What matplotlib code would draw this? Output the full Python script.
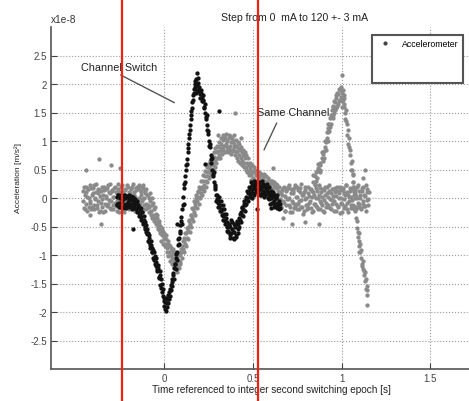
import numpy as np
import matplotlib
matplotlib.use("Agg")
import matplotlib.pyplot as plt
from matplotlib.lines import Line2D

plt.rcParams['font.family'] = ['Liberation Sans', 'DejaVu Sans']
plt.rcParams['axes.unicode_minus'] = False

# acceleration values in units of 1e-8 m/s^2, sampled every 5 ms,
# two interleaved passes per run (second pass half a sample later)
dt = 0.005

# "Channel Switch" run (black), starts at -0.27 s
switch_t0 = -0.27
switch_a = [
    0.02, -0.12, 0.05, -0.08, -0.15, 0.03, -0.05, -0.18, 0.06, -0.1, 0.0, -0.14, 0.04, -0.07, -0.16, 0.02, -0.11, -0.03, -0.17, 0.01, -0.09,
    -0.06, -0.2, -0.1, -0.24, -0.15, -0.3, -0.18, -0.33,
    -0.25, -0.42, -0.38, -0.55, -0.48, -0.64,
    -0.62, -0.78, -0.7, -0.88, -0.82, -0.95,
    -0.92, -1.08, -1.02, -1.2, -1.12, -1.28,
    -1.22, -1.4, -1.35, -1.58, -1.5, -1.72,
    -1.75, -1.9, -1.82, -1.98, -1.85,
    -1.7, -1.78, -1.6, -1.62, -1.48,
    -1.42, -1.35, -1.22, -1.15,
    -1.05, -0.95, -0.82, -0.7,
    -0.58, -0.48, -0.33, -0.2,
    0.02, 0.18, 0.38, 0.5, 0.68,
    0.8, 0.95, 1.12, 1.28, 1.45, 1.58,
    1.72, 1.85, 1.95, 2.0, 2.08, 1.9, 2.02, 1.88, 1.82,
    1.85, 1.78, 1.72, 1.7, 1.58, 1.5, 1.38,
    1.28, 1.12, 1.0, 0.9, 0.75, 0.62, 0.5, 0.38, 0.28, 0.15, 0.05,
    -0.02, -0.08, -0.05, -0.15, -0.12, -0.22, -0.2, -0.32, -0.28, -0.4, -0.35, -0.5,
    -0.42, -0.6, -0.48, -0.65, -0.38, -0.55, -0.7, -0.45, -0.6, -0.5, -0.68, -0.42, -0.55, -0.35,
    -0.38, -0.25, -0.3, -0.18, -0.2, -0.1, -0.12, -0.02, 0.0, 0.08,
    0.12, 0.02, 0.18, 0.1, 0.22, 0.08, 0.2, 0.15, 0.25, 0.12,
    0.22, 0.1, 0.25, 0.15, 0.05, 0.2, 0.12, 0.22, 0.05, 0.18, 0.08, 0.15,
    0.1, -0.02, 0.08, 0.0, 0.05, -0.08, 0.02, -0.05, -0.12, 0.0, -0.1, -0.15, -0.05, -0.18,
]
switch_a2 = [
    -0.1, 0.05, -0.16, 0.0, 0.06, -0.12, 0.04, -0.02, -0.15, 0.05, -0.18, 0.02, -0.12, 0.06, -0.04, -0.14, 0.04, -0.2, 0.0, -0.12, -0.02,
    -0.18, -0.05, -0.25, -0.12, -0.32, -0.2, -0.38, -0.25,
    -0.45, -0.32, -0.5, -0.42, -0.6, -0.55,
    -0.75, -0.65, -0.82, -0.75, -0.95, -0.88,
    -1.05, -0.95, -1.15, -1.05, -1.25, -1.18,
    -1.38, -1.28, -1.52, -1.42, -1.65, -1.6,
    -1.8, -1.95, -1.75, -1.92, -1.78,
    -1.85, -1.65, -1.72, -1.52, -1.55,
    -1.32, -1.42, -1.15, -1.25,
    -0.98, -1.08, -0.72, -0.8,
    -0.62, -0.4, -0.45, -0.12,
    -0.1, 0.25, 0.28, 0.58, 0.6,
    0.88, 1.05, 1.2, 1.38, 1.52, 1.68,
    1.8, 1.92, 2.05, 1.85, 1.98, 2.1, 1.88, 1.95, 1.75,
    1.9, 1.7, 1.8, 1.6, 1.65, 1.42, 1.45,
    1.2, 1.18, 0.92, 0.95, 0.68, 0.7, 0.42, 0.45, 0.2, 0.22, -0.05,
    0.05, -0.15, 0.02, -0.22, -0.05, -0.3, -0.12, -0.38, -0.2, -0.45, -0.28, -0.58,
    -0.58, -0.45, -0.7, -0.5, -0.62, -0.42, -0.6, -0.72, -0.48, -0.65, -0.4, -0.62, -0.45, -0.5,
    -0.28, -0.42, -0.15, -0.32, -0.05, -0.22, 0.02, -0.1, 0.12, -0.05,
    0.2, 0.05, 0.28, 0.0, 0.15, 0.3, 0.05, 0.25, 0.1, 0.28,
    0.12, 0.28, 0.05, 0.2, 0.3, 0.08, 0.25, 0.02, 0.2, 0.1, 0.25, 0.0,
    0.2, 0.05, -0.1, 0.12, -0.08, 0.1, -0.15, 0.05, 0.0, -0.18, 0.05, -0.08, -0.2, -0.1,
]
switch_extra_t = [-0.18, 0.07, 0.185, 0.23, 0.305, 0.52, 0.6]
switch_extra_a = [-0.55, -0.45, 2.2, 0.6, 1.52, -0.2, -0.18]

# "Same Channel" run (grey), starts at -0.46 s
same_t0 = -0.46
same_a = [
    0.12, -0.18, 0.05, 0.2, -0.1, -0.22, 0.15, 0.0, -0.05, 0.18, -0.15, 0.08, -0.2, 0.22, -0.02, 0.1, -0.12, 0.16, -0.25, 0.04,
    -0.08, 0.2, -0.16, 0.06, 0.14, -0.22, 0.0, 0.18, -0.1, 0.1, -0.18, 0.24, -0.05, 0.12, -0.2, 0.02, 0.2, -0.14, 0.08, -0.06,
    0.16, -0.24, 0.1, -0.02, 0.22, -0.12, 0.05, -0.18, 0.14, 0.0, -0.1, 0.2, -0.2, 0.08, 0.15, -0.06, 0.25, -0.15, 0.1, 0.02,
    0.18, -0.08,
    0.15, 0.0, 0.2, 0.05, 0.12, -0.05, 0.18, 0.0, 0.08, -0.1, 0.05, -0.12, 0.0, -0.15, -0.05, -0.22, -0.12, -0.3, -0.2, -0.35, -0.28,
    -0.42, -0.35, -0.5, -0.45, -0.58, -0.5, -0.65, -0.6, -0.72, -0.68,
    -0.8, -0.72, -0.88, -0.8, -0.95, -0.85, -1.0, -0.92, -1.05, -0.95,
    -1.1, -1.0, -1.15, -1.05, -1.2, -1.1, -1.0, -1.15, -0.95, -0.85,
    -0.9, -0.75, -0.8, -0.62, -0.7, -0.5, -0.58, -0.4, -0.45, -0.3,
    -0.35, -0.2, -0.25, -0.1, -0.15, 0.0, -0.05, 0.1, 0.02, 0.15,
    0.08, 0.2, 0.15, 0.3, 0.22, 0.38, 0.3, 0.45, 0.38, 0.52,
    0.45, 0.58, 0.5, 0.65, 0.58, 0.72, 0.65, 0.8, 0.7, 0.82,
    0.75, 0.9, 0.82, 0.95, 0.88, 1.02, 0.92, 1.05, 0.95, 0.9,
    1.0, 0.88, 1.05, 0.92, 0.98, 0.85, 1.0, 0.9, 0.95, 0.82,
    0.92, 0.8, 0.88, 0.75, 0.85, 0.7, 0.8, 0.65, 0.75, 0.62,
    0.7, 0.55, 0.62, 0.48, 0.58, 0.45, 0.52, 0.4, 0.48, 0.35,
    0.45, 0.32, 0.4, 0.28, 0.38, 0.25, 0.35, 0.3, 0.42, 0.22,
    0.35, 0.2, 0.3, 0.15, 0.28, 0.22, 0.12, 0.3, 0.18, 0.25,
    0.15, 0.25, 0.08, 0.2, 0.05, 0.18, 0.0, 0.12, 0.08, -0.02,
    0.1, -0.15, 0.05, 0.18, -0.08, -0.22, 0.12, -0.02, 0.2, -0.12,
    0.0, -0.25, 0.15, -0.05, 0.08, -0.18, 0.22, -0.1, 0.02, -0.2,
    0.14, -0.06, 0.18, -0.15, 0.05, -0.28, 0.1, -0.02, 0.2, -0.12,
    -0.2, 0.08, -0.08, 0.16, -0.18, 0.02, 0.12, -0.22, 0.06, -0.1,
    0.18, -0.15, 0.0, 0.22, -0.05, -0.2, 0.1, -0.12, 0.15, -0.25,
    0.05, -0.08, 0.2, -0.15, 0.02, 0.12, -0.18, 0.08, -0.04, 0.16,
    -0.22, 0.1, -0.1, 0.04, 0.2, -0.16, 0.0, 0.14, -0.08, -0.24,
    0.18, -0.02, 0.08, -0.14, 0.22, -0.2, 0.06, -0.06, 0.12, -0.18,
    0.02, 0.16, -0.12, 0.1, -0.22, 0.04, 0.2, -0.08, -0.16, 0.12,
    0.0, -0.2, 0.18, -0.1, 0.06, -0.14, 0.22, -0.04, 0.1, -0.12,
]
same_a2 = [
    -0.05, 0.2, -0.2, 0.1, 0.02, 0.15, -0.16, 0.22, -0.08, -0.2, 0.06, 0.18, -0.12, 0.0, 0.24, -0.18, 0.08, -0.06, 0.14, -0.22,
    0.12, -0.02, -0.24, 0.2, -0.1, 0.04, 0.16, -0.14, 0.22, -0.04, 0.08, -0.2, 0.14, -0.12, 0.02, 0.18, -0.08, 0.1, -0.22, 0.24,
    -0.02, 0.06, -0.16, 0.2, -0.08, 0.12, -0.24, 0.16, -0.04, 0.22, -0.14, 0.02, 0.1, -0.18, 0.0, 0.2, -0.1, 0.06, -0.22, 0.14,
    -0.06, 0.2,
    -0.05, 0.22, -0.1, 0.1, -0.02, 0.22, -0.12, 0.12, -0.2, 0.15, -0.18, 0.05, -0.25, 0.08, -0.3, 0.0, -0.35, -0.08, -0.4, -0.15, -0.45,
    -0.3, -0.55, -0.4, -0.62, -0.5, -0.75, -0.55, -0.8, -0.62, -0.85,
    -0.65, -0.95, -0.75, -1.02, -0.82, -1.1, -0.88, -1.15, -0.9, -1.2,
    -0.95, -1.25, -1.02, -1.3, -0.98, -1.22, -1.12, -0.9, -1.05, -0.75,
    -0.7, -0.95, -0.62, -0.85, -0.52, -0.72, -0.38, -0.6, -0.3, -0.5,
    -0.18, -0.4, -0.05, -0.3, 0.05, -0.18, 0.12, -0.1, 0.2, 0.0,
    0.3, 0.05, 0.4, 0.12, 0.48, 0.2, 0.55, 0.28, 0.6, 0.35,
    0.65, 0.4, 0.72, 0.5, 0.8, 0.55, 0.88, 0.62, 0.92, 0.7,
    0.98, 0.7, 1.05, 0.78, 1.1, 0.85, 1.08, 0.8, 1.12, 0.85,
    0.8, 1.1, 0.85, 1.08, 0.78, 1.05, 0.82, 1.1, 0.75, 1.02,
    0.7, 0.98, 0.65, 0.95, 0.62, 0.9, 0.58, 0.85, 0.55, 0.8,
    0.5, 0.75, 0.45, 0.7, 0.4, 0.62, 0.32, 0.58, 0.3, 0.55,
    0.2, 0.5, 0.18, 0.48, 0.15, 0.45, 0.2, 0.42, 0.15, 0.4,
    0.1, 0.42, 0.05, 0.38, 0.08, 0.35, 0.02, 0.32, 0.05, 0.3,
    0.3, -0.05, 0.28, -0.08, 0.25, -0.1, 0.22, -0.12, 0.2, -0.15,
    -0.18, 0.14, -0.06, 0.2, -0.22, 0.04, -0.12, 0.16, -0.02, 0.22,
    -0.16, 0.08, -0.24, 0.12, -0.08, 0.18, -0.14, 0.02, 0.2, -0.1,
    -0.2, 0.1, -0.04, 0.24, -0.16, 0.06, -0.22, 0.14, 0.0, -0.12,
    0.2, -0.18, 0.04, -0.06, 0.16, -0.24, 0.1, -0.1, 0.22, 0.0,
    -0.14, 0.12, -0.2, 0.06, 0.18, -0.08, 0.02, -0.22, 0.14, -0.04,
    0.2, -0.16, 0.08, -0.12, 0.22, -0.02, -0.2, 0.16, -0.1, 0.04,
    -0.06, 0.18, -0.22, 0.12, -0.14, 0.08, -0.26, 0.2, 0.0, -0.1,
    0.14, -0.18, 0.06, 0.22, -0.08, 0.1, -0.24, 0.02, 0.18, -0.12,
    -0.04, 0.2, -0.2, 0.08, 0.14, -0.16, 0.0, 0.22, -0.1, 0.06,
    -0.18, 0.12, -0.06, 0.2, -0.14, 0.04, -0.22, 0.16, -0.02, 0.1,
]
# grey excursion near 1 s (peak and drop), two passes
bump_t = [0.84, 0.85, 0.855, 0.86, 0.868, 0.875, 0.88, 0.887, 0.893, 0.9,
          0.905, 0.91, 0.915, 0.92, 0.925, 0.93, 0.935, 0.94, 0.944, 0.948,
          0.952, 0.956, 0.96, 0.965, 0.97, 0.975, 0.98, 0.985, 0.99, 0.995,
          1.0, 1.0, 1.005, 1.01, 1.015, 1.02, 1.025, 1.03, 1.035, 1.04,
          1.047, 1.052, 1.057, 1.062, 1.066, 1.07, 1.075, 1.08, 1.085, 1.09,
          1.095, 1.1, 1.105, 1.11, 1.115, 1.12, 1.125, 1.13, 1.137, 1.14, 1.145]
bump_a = [0.28, 0.38, 0.3, 0.48, 0.52, 0.45, 0.62, 0.7, 0.65, 0.82,
          0.9, 0.98, 1.05, 1.15, 1.22, 1.3, 1.25, 1.45, 1.55, 1.4,
          1.6, 1.5, 1.68, 1.58, 1.75, 1.62, 1.82, 1.7, 1.9, 1.78,
          2.15, 1.85, 1.72, 1.8, 1.6, 1.5, 1.35, 1.1, 1.2, 0.9,
          0.75, 0.62, 0.5, 0.4, 0.28, 0.05, -0.15, -0.35, -0.52, -0.6,
          -0.75, -0.85, -0.95, -1.05, -1.15, -1.25, -1.35, -1.45, -1.6, -1.55, -1.88]
bump_a2 = [0.4, 0.25, 0.45, 0.35, 0.6, 0.58, 0.5, 0.8, 0.78, 0.7,
           1.0, 0.85, 1.15, 1.0, 1.3, 1.18, 1.4, 1.3, 1.42, 1.62,
           1.45, 1.7, 1.55, 1.8, 1.6, 1.85, 1.65, 1.92, 1.72, 1.95,
           1.7, 1.6, 1.9, 1.65, 1.75, 1.38, 1.55, 1.3, 0.95, 1.05,
           0.85, 0.5, 0.65, 0.28, 0.42, 0.2, 0.0, -0.2, -0.4, -0.68,
           -0.62, -0.95, -0.8, -0.92, -1.2, -1.1, -1.28, -1.3, -1.42, -1.7, -1.62]
same_extra_t = [-0.44, -0.37, -0.3, -0.25, -0.42, -0.36, 0.3, 0.4, 0.43, 0.61, 0.67, 0.72, 0.79, 0.87, 1.12, 1.13]
same_extra_a = [0.5, 0.68, 0.58, 0.52, -0.3, -0.45, 1.1, 1.5, 1.05, 0.52, -0.35, -0.45, -0.42, -0.45, 0.35, 0.5]

scale = 1e-8
switch_t = switch_t0 + dt * np.arange(len(switch_a))
switch_t2 = switch_t0 + dt / 2 + dt * np.arange(len(switch_a2))
same_t = same_t0 + dt * np.arange(len(same_a))
same_t2 = same_t0 + dt / 2 + dt * np.arange(len(same_a2))

fig = plt.figure(figsize=(4.69, 4.02), dpi=100)
ax = fig.add_axes([51/469, 32/402, 468/469, 342/402])

grey = '#8a8a8a'
dark = '#121212'
for t, a in [(same_t, same_a), (same_t2, same_a2), (same_extra_t, same_extra_a),
             (bump_t, bump_a), (bump_t, bump_a2)]:
    ax.plot(t, np.array(a) * scale, ls='none', marker='o', ms=3.1, mew=0, color=grey)
for t, a in [(switch_t, switch_a), (switch_t2, switch_a2), (switch_extra_t, switch_extra_a)]:
    ax.plot(t, np.array(a) * scale, ls='none', marker='o', ms=3.1, mew=0, color=dark)

ax.set_xlim(-0.64, 2.0)
ax.set_ylim(-3e-8, 3e-8)
ax.set_xticks([0, 0.5, 1, 1.5])
ax.set_xticklabels(['0', '0.5', '1', '1.5'])
yt = np.arange(-2.5, 2.6, 0.5)
ax.set_yticks(yt * scale)
ax.set_yticklabels(['%g' % v for v in yt])
ax.tick_params(direction='in', length=4, width=0.8, labelsize=7, colors='#444444', pad=3)
ax.grid(True, ls=':', color='#9a9a9a', lw=0.8)
for s in ['top', 'right']:
    ax.spines[s].set_visible(False)
for s in ['left', 'bottom']:
    ax.spines[s].set_color('#555555')
    ax.spines[s].set_linewidth(1.2)

ax.set_title('Step from 0  mA to 120 +- 3 mA', fontsize=7.6, color='#222222',
             x=(294.7 - 51) / 468, y=1.0, pad=5)
ax.set_xlabel('Time referenced to integer second switching epoch [s]', fontsize=7.2, color='#222222')
ax.xaxis.set_label_coords((271 - 51) / 468, -0.045)
ax.set_ylabel('Acceleration [m/s²]', fontsize=6, color='#222222')
ax.yaxis.set_label_coords(-0.062, 0.56)
ax.text(0.0, 1.008, 'x1e-8', transform=ax.transAxes, fontsize=7.3, color='#333333', va='bottom')

# annotations
ax.annotate('', xy=(0.07, 1.65e-8), xytext=(-0.261, 2.18e-8),
            arrowprops=dict(arrowstyle='-', color='#555555', lw=1))
ax.text(-0.47, 2.3e-8, 'Channel Switch', fontsize=7.8, color='#222222', va='center')
ax.annotate('', xy=(0.555, 0.8e-8), xytext=(0.64, 1.36e-8),
            arrowprops=dict(arrowstyle='-', color='#555555', lw=1))
ax.text(0.52, 1.5e-8, 'Same Channel', fontsize=7.8, color='#222222', va='center')

handles = [Line2D([], [], ls='none', marker='.', ms=4, color='#444444'),
           Line2D([], [], ls='none'), Line2D([], [], ls='none')]
leg = ax.legend(handles, ['Accelerometer', ' ', ' '], loc='upper left',
                bbox_to_anchor=(372/469, 1 - 36/402), bbox_transform=fig.transFigure,
                borderaxespad=0, fontsize=6.3, fancybox=False, framealpha=1,
                handlelength=2.0, handletextpad=0.9, borderpad=0.5, labelspacing=0.7)
leg.get_frame().set_edgecolor('#555555')
leg.get_frame().set_linewidth(1.5)

# red markers
for xv in [-0.2386, 0.528]:
    ax.axvline(xv, ymin=-0.1, ymax=1.1, color='#ee2211', lw=1.6, clip_on=False, zorder=10)

fig.savefig('out.png', dpi=100)
